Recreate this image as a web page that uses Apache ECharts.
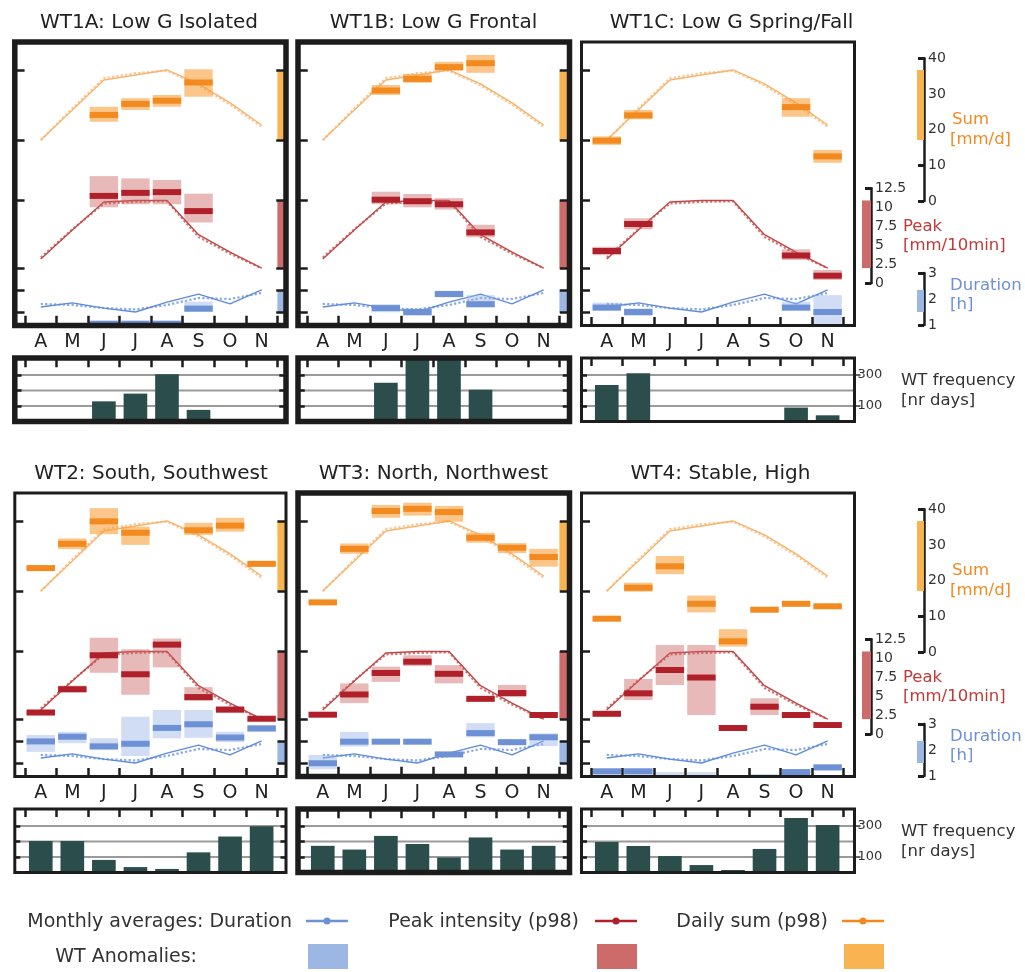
<!DOCTYPE html>
<html><head><meta charset="utf-8">
<script src="https://cdn.jsdelivr.net/npm/echarts@6/dist/echarts.min.js"></script>
<style>html,body{margin:0;padding:0;background:#fff}#c{width:1025px;height:972px}</style>
</head><body><div id="c"></div>
<script>
// ---------------- DATA ----------------
const months = ['A','M','J','J','A','S','O','N'];
// monthly averages (two variants drawn as solid + dotted)
const sumAvg   = [17.1, 25.5, 33.9, 35.3, 36.7, 32.8, 27.5, 21.3];
const sumAvg2  = [17.0, 25.9, 34.4, 35.8, 36.5, 32.4, 27.0, 20.8];
const peakAvg  = [3.2, 7.0, 10.7, 10.9, 10.9, 6.4, 4.1, 2.0];
const peakAvg2 = [3.4, 7.1, 10.5, 10.7, 10.8, 6.1, 3.9, 2.0];
const durAvg   = [1.69, 1.85, 1.65, 1.50, 1.88, 2.19, 1.81, 2.35];
const durAvg2  = [1.81, 1.77, 1.65, 1.60, 1.77, 2.04, 2.00, 2.23];
// WT anomalies per month: [low, value, high] or null
const wt1aSum  = [null, null, [22.2,24.1,26.4], [25.5,27.2,28.8], [26.4,28.1,29.7], [29.2,33.2,36.9], null, null];
const wt1aPeak = [null, null, [10.0,11.5,14.1], [10.4,11.9,13.8], [10.4,12.0,13.6], [8.0,9.5,11.8], null, null];
const wt1aDur  = [null, null, [0.9,1.05,1.12], [0.9,1.05,1.12], [0.9,1.05,1.12], [1.5,1.63,1.9], null, null];
const wt1bSum  = [null, null, [29.7,30.95,32.5], [33.1,34.2,35.6], [36.5,37.5,39.0], [35.9,38.6,40.9], null, null];
const wt1bPeak = [null, null, [10.4,11.0,12.05], [10.0,10.8,11.75], [9.7,10.4,11.2], [6.05,6.7,7.7], null, null];
const wt1bDur  = [null, null, [1.49,1.65,1.8], [1.35,1.5,1.64], [2.07,2.19,2.32], [1.68,1.8,2.15], null, null];
const wt1cSum  = [[15.7,16.9,18.1], [22.9,24.0,25.5], null, null, null, null, [23.6,26.3,28.8], [10.7,12.5,14.3]];
const wt1cPeak = [[3.7,4.25,4.8], [7.1,7.8,8.55], null, null, null, null, [3.07,3.66,4.47], [0.43,1.0,1.75]];
const wt1cDur  = [[1.55,1.67,1.86], [1.35,1.5,1.64], null, null, null, null, [1.55,1.67,1.9], [1.0,1.5,2.15]];
const wt2Sum   = [[22.8,23.5,24.2], [28.8,30.3,31.8], [33.0,36.6,40.3], [30.0,33.4,35.1], null, [32.8,34.1,36.2], [33.7,35.4,37.6], [24.0,24.7,25.2]];
const wt2Peak  = [[2.5,2.87,3.0], [5.5,5.93,6.4], [8.1,10.4,12.7], [5.2,7.9,11.2], [8.8,11.8,12.6], [4.4,4.9,6.2], [2.8,3.26,3.5], [1.7,2.05,2.3]];
const wt2Dur   = [[1.93,2.33,2.58], [2.26,2.51,2.7], [2.0,2.14,2.45], [1.77,2.24,3.28], [2.45,2.85,3.54], [2.47,2.99,3.54], [2.3,2.48,2.7], [2.7,2.83,2.95]];
const wt3Sum   = [[13.5,13.9,14.3], [27.5,28.9,30.4], [37.6,39.5,41.2], [38.2,40.1,41.8], [36.5,39.2,40.9], [30.6,32.0,33.4], [27.7,29.2,30.5], [23.9,26.6,28.9]];
const wt3Peak  = [[2.3,2.58,2.9], [4.1,5.24,6.7], [6.9,8.07,8.9], [8.98,9.55,10.4], [6.7,7.96,9.1], [4.3,4.67,4.9], [4.9,5.43,6.5], [2.3,2.54,2.8]];
const wt3Dur   = [[1.26,1.49,1.81], [2.13,2.32,2.7], [2.25,2.32,2.4], [2.25,2.32,2.4], [1.75,1.83,1.92], [2.49,2.65,3.03], [2.2,2.3,2.42], [2.15,2.49,2.64]];
const wt4Sum   = [[9.0,9.33,9.6], [16.9,18.0,19.4], [21.8,24.0,26.9], [11.1,13.5,15.8], [1.5,3.0,6.4], [11.5,11.85,12.1], [12.9,13.5,14.2], [12.1,12.8,13.5]];
const wt4Peak  = [[2.4,2.7,3.0], [4.5,5.39,7.28], [6.5,8.46,11.75], [2.54,7.47,11.75], [0.6,0.83,1.2], [2.54,3.63,4.74], [2.3,2.54,2.8], [0.9,1.22,1.5]];
const wt4Dur   = [[1.05,1.18,1.28], [1.05,1.18,1.28], [0.8,0.85,1.15], [0.8,0.85,1.15], null, [0.8,0.85,1.08], [1.05,1.15,1.25], [1.22,1.33,1.45]];
// WT frequency [nr days]
const freq1A = [0, 0, 130, 180, 305, 75, 0, 0];
const freq1B = [0, 0, 250, 420, 420, 205, 0, 0];
const freq1C = [235, 311, 0, 0, 0, 0, 90, 40];
const freq2  = [203, 203, 81, 35, 23, 130, 232, 298];
const freq3  = [172, 148, 236, 184, 97, 226, 148, 172];
const freq4  = [197, 171, 106, 48, 16, 152, 352, 306];
const freqGridValues = [100, 200, 300];
const freqLabelValues = [100, 300];
const titles = ['WT1A: Low G Isolated','WT1B: Low G Frontal','WT1C: Low G Spring/Fall',
                'WT2: South, Southwest','WT3: North, Northwest','WT4: Stable, High'];

// ---------------- STYLE / LAYOUT ----------------
const FONT = 'DejaVu Sans';
const BLACK = '#1c1c1c';
const COL = {
  sum:  {dark:'#f28a1f', light:'rgba(250,160,60,0.6)',  ref:'#f9b451', line:'#f8b46e'},
  peak: {dark:'#b0202a', light:'rgba(205,100,100,0.45)', ref:'#cd6a6a', line:'#c24848'},
  dur:  {dark:'#6d91d4', light:'rgba(150,180,230,0.45)', ref:'#9cb7e3', line:'#5f8bdc'}
};
const BAR = '#2b4e4c';
const U = 31.55;
const COLS = [{gl:14.8, gr:286, x0:25}, {gl:298, gr:569.5, x0:307}, {gl:581.5, gr:854.5, x0:591}];
const titleX = [149, 433.5, 731.5, 151, 433.5, 720.5];
const thick = [true, true, false, false, true, false];
const ROWDY = 451;
// scale anchors in row-1 pixel space: [v0, p0, v1, p1]
const ANCH = {sum:[0,201,40,58.2], peak:[0,283.3,12.5,188.3], dur:[1,325,3,273], freq:[0,421.5,300,375]};
function valAt(a, p, dy){ const s = (a[3]-a[1])/(a[2]-a[0]); return a[0] + (p - dy - a[1])/s; }
function pixAt(a, v){ const s = (a[3]-a[1])/(a[2]-a[0]); return a[1] + (v - a[0])*s; }

const panels = [
  {sum:wt1aSum, peak:wt1aPeak, dur:wt1aDur, freq:freq1A},
  {sum:wt1bSum, peak:wt1bPeak, dur:wt1bDur, freq:freq1B},
  {sum:wt1cSum, peak:wt1cPeak, dur:wt1cDur, freq:freq1C},
  {sum:wt2Sum,  peak:wt2Peak,  dur:wt2Dur,  freq:freq2},
  {sum:wt3Sum,  peak:wt3Peak,  dur:wt3Dur,  freq:freq3},
  {sum:wt4Sum,  peak:wt4Peak,  dur:wt4Dur,  freq:freq4}
];
const avgs = {sum:[sumAvg,sumAvg2], peak:[peakAvg,peakAvg2], dur:[durAvg,durAvg2]};
const boundaries = months.map((m,i)=>i-0.5).concat([months.length-0.5]);
const centers = months.map((m,i)=>i);

function clipR(r, cs){
  const c = echarts.graphic.clipRectByRect(r, {x:cs.x, y:cs.y, width:cs.width, height:cs.height});
  return (c && c.width > 0 && c.height > 0) ? c : null;
}
function boxRender(light, dark){
  return function(params, api){
    const cs = params.coordSys;
    const i = api.value(0), lo = api.value(1), mid = api.value(2), hi = api.value(3);
    const a = api.coord([i-0.45, hi]), b = api.coord([i+0.45, lo]), m = api.coord([i-0.45, mid]);
    const ch = [];
    const r1 = clipR({x:a[0], y:a[1], width:b[0]-a[0], height:b[1]-a[1]}, cs);
    if (r1) ch.push({type:'rect', shape:r1, style:{fill:light}});
    const r2 = clipR({x:a[0], y:m[1]-3, width:b[0]-a[0], height:6}, cs);
    if (r2) ch.push({type:'rect', shape:r2, style:{fill:dark}});
    return {type:'group', children:ch};
  };
}
function refRender(color){
  return function(params, api){
    const cs = params.coordSys;
    const a = api.coord([api.value(0), api.value(2)]), b = api.coord([api.value(0), api.value(1)]);
    const r = clipR({x:a[0], y:a[1], width:cs.x+cs.width-a[0], height:b[1]-a[1]}, cs);
    return r ? {type:'rect', shape:r, style:{fill:color}} : null;
  };
}
function freqBarRender(params, api){
  const cs = params.coordSys;
  const i = api.value(0), v = api.value(1);
  const a = api.coord([i-0.375, v]), b = api.coord([i+0.375, 0]);
  const r = clipR({x:a[0], y:a[1], width:b[0]-a[0], height:b[1]-a[1]}, cs);
  return r ? {type:'rect', shape:r, style:{fill:BAR}} : null;
}
function gridLineRender(params, api){
  const cs = params.coordSys;
  const y = api.coord([0, api.value(1)])[1];
  return {type:'line', shape:{x1:cs.x, y1:y, x2:cs.x+cs.width, y2:y}, style:{stroke:'#9a9a9a', lineWidth:2}};
}

const grids=[], xAxes=[], yAxes=[], series=[], graphics=[];
function hiddenY(grid, min, max, pos, ticks, len){
  return {type:'value', gridIndex:grid, min:min, max:max, position:pos, z:5,
    axisLine:{show:false, onZero:false}, axisLabel:{show:false}, splitLine:{show:false},
    axisTick:{show:!!ticks, inside:true, length:len, customValues:ticks || [], lineStyle:{color:BLACK, width:2.5}}};
}

panels.forEach((P, k) => {
  const col = k % 3, row = Math.floor(k/3);
  const C = COLS[col], dy = row*ROWDY;
  const bw = thick[k] ? 5.5 : 3;
  const mt = 42+dy, mb = 325.5+dy, ft = 358+dy, fb = 421.5+dy;
  const xmin = -0.5 - (C.x0 - C.gl)/U, xmax = 7.5 + (C.gr - (C.x0 + 8*U))/U;
  const W = C.gr - C.gl;
  // ---- main grid
  const gM = grids.length; grids.push({left:C.gl, top:mt, width:W, height:mb-mt});
  const xM = xAxes.length;
  xAxes.push({type:'value', gridIndex:gM, min:xmin, max:xmax, position:'bottom', z:5,
    axisLine:{show:false, onZero:false}, splitLine:{show:false},
    axisTick:{show:true, inside:true, length:bw/2+7, customValues:boundaries, lineStyle:{color:BLACK, width:2.5}},
    axisLabel:{show:true, customValues:centers, formatter:v=>months[Math.round(v)], fontSize:19, color:'#222', margin:7, fontFamily:FONT}});
  const yIdx = {};
  ['sum','peak','dur'].forEach(key => {
    const a = ANCH[key];
    const min = valAt(a, mb, dy), max = valAt(a, mt, dy);
    const ticks = [Math.min(...avgs[key][0]), Math.max(...avgs[key][0])];
    yIdx[key] = yAxes.length;
    yAxes.push(hiddenY(gM, min, max, 'left', ticks, bw/2+7));
    if (col < 2) yAxes.push(hiddenY(gM, min, max, 'right', ticks, bw/2+7));
  });
  // curves
  ['sum','peak','dur'].forEach(key => {
    const c = COL[key];
    series.push({type:'line', xAxisIndex:xM, yAxisIndex:yIdx[key], data:avgs[key][1].map((v,i)=>[i,v]),
      showSymbol:false, silent:true, z:2, lineStyle:{color:c.line, width:2.2, type:'dotted', opacity:0.75}});
    series.push({type:'line', xAxisIndex:xM, yAxisIndex:yIdx[key], data:avgs[key][0].map((v,i)=>[i,v]),
      showSymbol:false, silent:true, z:2, lineStyle:{color:c.line, width:1.4}});
  });
  // reference bars inside (columns 1 & 2)
  if (col < 2) {
    ['sum','peak','dur'].forEach(key => {
      series.push({type:'custom', xAxisIndex:xM, yAxisIndex:yIdx[key], z:3, silent:true,
        renderItem:refRender(COL[key].ref),
        data:[[7.5, Math.min(...avgs[key][0]), Math.max(...avgs[key][0])]]});
    });
  }
  // anomaly boxes
  ['sum','peak','dur'].forEach(key => {
    const data = [];
    P[key].forEach((d,i) => { if (d) data.push([i, d[0], d[1], d[2]]); });
    series.push({type:'custom', xAxisIndex:xM, yAxisIndex:yIdx[key], z:4, silent:true,
      renderItem:boxRender(COL[key].light, COL[key].dark), data:data});
  });
  // ---- frequency grid
  const gF = grids.length; grids.push({left:C.gl, top:ft, width:W, height:fb-ft});
  const xF = xAxes.length;
  xAxes.push({type:'value', gridIndex:gF, min:xmin, max:xmax, position:'bottom',
    axisLine:{show:false, onZero:false}, splitLine:{show:false}, axisLabel:{show:false}, axisTick:{show:false}});
  const fmin = 0, fmax = valAt(ANCH.freq, ft, dy);
  const yF = yAxes.length;
  yAxes.push(hiddenY(gF, fmin, fmax, 'left', freqGridValues, bw/2+4));
  if (col < 2) {
    yAxes.push(hiddenY(gF, fmin, fmax, 'right', freqGridValues, bw/2+4));
  } else {
    yAxes.push({type:'value', gridIndex:gF, min:fmin, max:fmax, position:'right', z:5,
      axisLine:{show:false, onZero:false}, splitLine:{show:false},
      axisTick:{show:true, inside:false, length:6, customValues:freqLabelValues, lineStyle:{color:'#333', width:1.5}},
      axisLabel:{show:true, customValues:freqLabelValues, fontSize:13, color:'#333', margin:3, fontFamily:FONT}});
  }
  series.push({type:'custom', xAxisIndex:xF, yAxisIndex:yF, z:1, silent:true, renderItem:gridLineRender,
    data:freqGridValues.map(v=>[0,v])});
  series.push({type:'custom', xAxisIndex:xF, yAxisIndex:yF, z:3, silent:true, renderItem:freqBarRender,
    data:P.freq.map((v,i)=>[i,v])});
  // ---- thin strip along the top of the frequency panel carrying the month-boundary ticks
  const tl = bw/2 + 6.5;
  const gT = grids.length; grids.push({left:C.gl, top:ft, width:W, height:tl});
  xAxes.push({type:'value', gridIndex:gT, min:xmin, max:xmax, position:'bottom', z:5,
    axisLine:{show:false, onZero:false}, splitLine:{show:false}, axisLabel:{show:false},
    axisTick:{show:true, inside:true, length:tl, customValues:boundaries, lineStyle:{color:BLACK, width:2.5}}});
  yAxes.push({type:'value', gridIndex:gT, min:0, max:1, show:false});
  // frames + title
  graphics.push({type:'rect', z:100, silent:true, shape:{x:C.gl, y:mt, width:W, height:mb-mt},
    style:{fill:'rgba(0,0,0,0)', stroke:BLACK, lineWidth:bw}});
  graphics.push({type:'rect', z:100, silent:true, shape:{x:C.gl, y:ft, width:W, height:fb-ft},
    style:{fill:'rgba(0,0,0,0)', stroke:BLACK, lineWidth:bw}});
  graphics.push({type:'text', z:100, x:titleX[k], y:22.5+dy,
    style:{text:titles[k], font:'20px "'+FONT+'"', fill:'#222', textAlign:'center', textVerticalAlign:'middle'}});
});

// ---- legend axes on the right (both rows)
const LEG = [
  {key:'sum',  left:917, width:7, v0:0, v1:40, step:10},
  {key:'peak', left:862, width:9, v0:0, v1:12.5, step:2.5},
  {key:'dur',  left:917, width:7, v0:1, v1:3, step:1}
];
[0,1].forEach(row => {
  const dy = row*ROWDY;
  LEG.forEach(L => {
    const a = ANCH[L.key];
    const top = pixAt(a, L.v1) + dy, bot = pixAt(a, L.v0) + dy;
    const g = grids.length; grids.push({left:L.left, top:top, width:L.width, height:bot-top});
    const xi = xAxes.length;
    xAxes.push({type:'value', gridIndex:g, min:0, max:1, show:false});
    const yi = yAxes.length;
    yAxes.push({type:'value', gridIndex:g, min:L.v0, max:L.v1, interval:L.step, position:'right',
      axisLine:{show:true, onZero:false, lineStyle:{color:BLACK, width:2.5}}, splitLine:{show:false},
      axisTick:{show:true, inside:true, length:6, lineStyle:{color:BLACK, width:3}},
      axisLabel:{show:true, fontSize:14, color:'#333', margin:4, fontFamily:FONT}});
    series.push({type:'custom', xAxisIndex:xi, yAxisIndex:yi, z:1, silent:true,
      renderItem:refRender(COL[L.key].ref),
      data:[[0, Math.min(...avgs[L.key][0]), Math.max(...avgs[L.key][0])]]});
  });
  const tx = (x, y, t, color) => graphics.push({type:'text', x:x, y:y+dy, z:100,
    style:{text:t, font:'16.5px "'+FONT+'"', fill:color, textVerticalAlign:'middle'}});
  tx(952, 120, 'Sum', '#f28a1f');
  tx(950, 139.5, '[mm/d]', '#f28a1f');
  tx(903, 227, 'Peak', '#c03a3a');
  tx(903, 246, '[mm/10min]', '#c03a3a');
  tx(950, 286, 'Duration', '#6d91d4');
  tx(950, 305, '[h]', '#6d91d4');
  tx(901, 380.5, 'WT frequency', '#333');
  tx(901, 400.5, '[nr days]', '#333');
});

// ---- bottom legend
const legItems = [
  {text:'Monthly averages: Duration', right:292, x1:306, x2:348, key:'dur'},
  {text:'Peak intensity (p98)', right:579, x1:595, x2:637, key:'peak'},
  {text:'Daily sum (p98)', right:828, x1:842, x2:884, key:'sum'}
];
legItems.forEach(L => {
  graphics.push({type:'text', x:L.right, y:922, z:100,
    style:{text:L.text, font:'19px "'+FONT+'"', fill:'#333', textAlign:'right', textVerticalAlign:'middle'}});
  graphics.push({type:'line', z:100, shape:{x1:L.x1, y1:921, x2:L.x2, y2:921},
    style:{stroke:COL[L.key].dark, lineWidth:2.5}});
  graphics.push({type:'circle', z:101, shape:{cx:(L.x1+L.x2)/2, cy:921, r:3.5},
    style:{fill:COL[L.key].dark}});
  graphics.push({type:'rect', z:100, shape:{x:L.x1+2, y:944, width:L.x2-L.x1-2, height:25},
    style:{fill:COL[L.key].ref}});
});
graphics.push({type:'text', x:197, y:957, z:100,
  style:{text:'WT Anomalies:', font:'19px "'+FONT+'"', fill:'#333', textAlign:'right', textVerticalAlign:'middle'}});

const chart = echarts.init(document.getElementById('c'), null, {renderer:'canvas'});
chart.setOption({
  animation:false,
  backgroundColor:'#fff',
  textStyle:{fontFamily:FONT},
  grid:grids, xAxis:xAxes, yAxis:yAxes, series:series, graphic:graphics
});
</script></body></html>
